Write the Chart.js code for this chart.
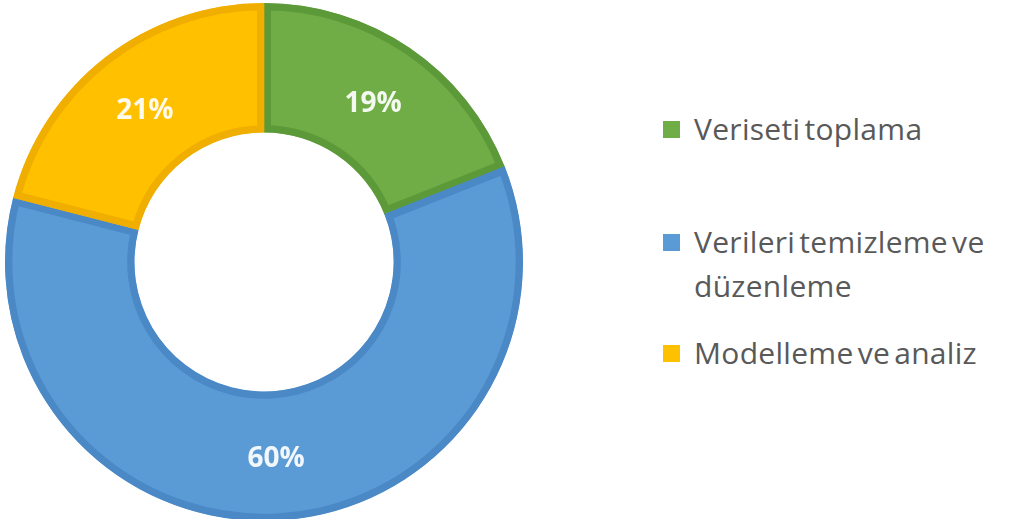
<!DOCTYPE html>
<html>
<head>
<meta charset="utf-8">
<script src="https://cdn.jsdelivr.net/npm/chart.js@4.4.0/dist/chart.umd.min.js"></script>
<style>
    html, body { margin: 0; padding: 0; background: #ffffff; }
    #wrap { position: relative; width: 1011px; height: 519px; overflow: hidden; }
    #chart-box { position: absolute; left: 0; top: 3px; width: 528px; height: 518px; }
    #legend { position: absolute; left: 0; top: 0; }
    .item { position: absolute; left: 663px; font-family: "Open Sans", sans-serif; font-size: 30px; line-height: 44px; color: #595959; white-space: nowrap; word-spacing: -4px; letter-spacing: 0.3px; }
    .item .box { position: absolute; left: 0; top: 13px; width: 17px; height: 17px; }
    .item .txt { position: absolute; left: 31px; top: -1px; }
</style>
</head>
<body>
<div id="wrap">
    <div id="chart-box"><canvas id="donut" width="528" height="518"></canvas></div>
    <div id="legend"></div>
</div>
<script>
// Chart data
const categories = ['Veriseti toplama', 'Verileri temizleme ve düzenleme', 'Modelleme ve analiz'];
const legendLines = [['Veriseti toplama'], ['Verileri temizleme ve', 'düzenleme'], ['Modelleme ve analiz']];
const shares = [19, 60, 21];
const fillColors = ['#70AD47', '#5B9BD5', '#FFC000'];
const edgeColors = ['#5C9939', '#4A89C6', '#F0AE00'];

// legend placement (layout only)
const legendTops = [108, 221, 332];

// Draw the percentage in the middle of each ring segment
const sliceLabels = {
    id: 'sliceLabels',
    afterDatasetsDraw(chart) {
        const ctx = chart.ctx;
        const meta = chart.getDatasetMeta(0);
        ctx.save();
        ctx.font = 'bold 28px "Open Sans", sans-serif';
        ctx.fillStyle = 'rgba(255, 255, 255, 0.92)';
        ctx.textAlign = 'center';
        ctx.textBaseline = 'middle';
        meta.data.forEach((arc, i) => {
            const pos = arc.tooltipPosition();
            ctx.fillText(shares[i] + '%', pos.x, pos.y + 3);
        });
        ctx.restore();
    }
};

function buildLegend() {
    const legend = document.getElementById('legend');
    legendLines.forEach((lines, i) => {
        const item = document.createElement('div');
        item.className = 'item';
        item.style.top = legendTops[i] + 'px';
        const box = document.createElement('span');
        box.className = 'box';
        box.style.background = fillColors[i];
        const txt = document.createElement('span');
        txt.className = 'txt';
        txt.innerHTML = lines.join('<br>');
        item.appendChild(box);
        item.appendChild(txt);
        legend.appendChild(item);
    });
}

const ctx = document.getElementById('donut').getContext('2d');
new Chart(ctx, {
    type: 'doughnut',
    data: {
        labels: categories,
        datasets: [{
            data: shares,
            backgroundColor: fillColors,
            borderColor: edgeColors,
            borderWidth: 7,
            borderAlign: 'inner'
        }]
    },
    options: {
        responsive: false,
        animation: false,
        cutout: '50%',
        layout: { padding: 0 },
        plugins: {
            legend: { display: false },
            tooltip: { enabled: false }
        }
    },
    plugins: [sliceLabels]
});

buildLegend();
</script>
</body>
</html>
